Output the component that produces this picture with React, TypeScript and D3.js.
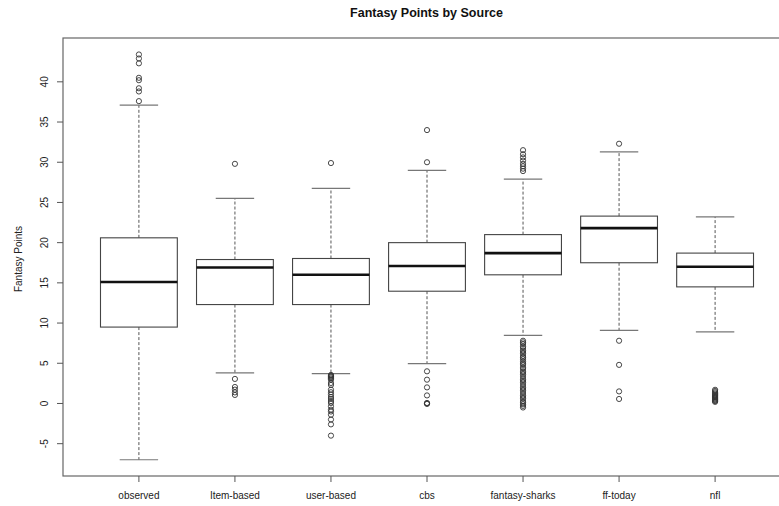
import React from "react";
import * as d3 from "d3";

const categories = ["observed", "Item-based", "user-based", "cbs", "fantasy-sharks", "ff-today", "nfl"];
const whiskerLow = [-7.0, 3.8, 3.71, 4.96, 8.48, 9.1, 8.9];
const q1 = [9.5, 12.3, 12.3, 13.96, 16.0, 17.5, 14.5];
const median = [15.1, 16.9, 16.0, 17.1, 18.7, 21.8, 17.0];
const q3 = [20.6, 17.9, 18.03, 20.0, 21.0, 23.3, 18.7];
const whiskerHigh = [37.1, 25.5, 26.75, 29.0, 27.9, 31.3, 23.2];

const observedOutliers = [43.4, 42.9, 42.3, 40.5, 40.2, 39.2, 38.8, 37.6];
const itemOutliers = [29.8, 3.05, 2.05, 1.72, 1.38, 1.06];
const userOutliers = [29.9, 3.55, 3.45, 3.35, 3.25, 3.1, 2.96, 2.55, 2.3, 1.72, 1.4, 1.1, 0.8, 0.56, 0.3, 0.06, -0.36, -0.77, -1.0, -1.4, -2.0, -2.6, -4.0];
const cbsOutliers = [34.0, 30.0, 4.0, 2.96, 2.0, 1.0, 0.06, 0.0, -0.05];
const sharksOutliers = [31.5, 31.0, 30.6, 30.2, 29.8, 29.5, 29.2, 28.9,
  7.8, 7.6, 7.4, 7.1, 6.9, 6.6, 6.4, 6.2, 5.9, 5.7, 5.5, 5.2, 5.0, 4.8, 4.5, 4.3, 4.0, 3.8, 3.6, 3.3,
  3.0, 2.8, 2.6, 2.3, 2.0, 1.8, 1.6, 1.3, 1.0, 0.8, 0.6, 0.3, 0.1, -0.1, -0.3, -0.5];
const ffTodayOutliers = [32.3, 7.8, 4.8, 1.5, 0.56];
const nflOutliers = [1.7, 1.55, 1.4, 1.25, 1.1, 1.0, 0.9, 0.8, 0.7, 0.6, 0.5, 0.4, 0.3, 0.2];
const outliers = [observedOutliers, itemOutliers, userOutliers, cbsOutliers, sharksOutliers, ffTodayOutliers, nflOutliers];

const yTicks = [-5, 0, 5, 10, 15, 20, 25, 30, 35, 40];

const W = 779, H = 506;
const left = 63, right = 790, top = 38, bottom = 476;

export default function App() {
  const x = d3.scaleLinear().domain([0.22, 7.78]).range([left + 1, right]);
  const y = d3.scaleLinear().domain([-9.02, 45.45]).range([bottom, top]);
  const unit = x(2) - x(1);
  const bw = unit * 0.8;
  const cap = bw * 0.5;
  const font = "'Liberation Sans', Arial, Helvetica, sans-serif";

  return (
    <svg width={W} height={H} style={{ position: "absolute", left: 0, top: 0, display: "block", background: "#fff" }}>
      <text x={(left + right) / 2} y={17} textAnchor="middle" fontFamily={font} fontWeight="bold" fontSize={12.5} fill="#111">
        Fantasy Points by Source
      </text>
      <rect x={left} y={top} width={right - left} height={bottom - top} fill="none" stroke="#666" strokeWidth={1.2} />
      {/* y axis */}
      {yTicks.map((t) => (
        <g key={t}>
          <line x1={left - 6} x2={left} y1={y(t)} y2={y(t)} stroke="#555" strokeWidth={1} />
          <text transform={`translate(48,${y(t)}) rotate(-90)`} textAnchor="middle" fontFamily={font} fontSize={10} fill="#222">
            {t}
          </text>
        </g>
      ))}
      <text transform={`translate(22,${(top + bottom) / 2 + 2}) rotate(-90)`} textAnchor="middle" fontFamily={font} fontSize={10} fill="#222">
        Fantasy Points
      </text>
      {/* x axis */}
      {categories.map((c, i) => (
        <g key={c}>
          <line x1={x(i + 1)} x2={x(i + 1)} y1={bottom} y2={bottom + 6} stroke="#555" strokeWidth={1} />
          <text x={x(i + 1)} y={499} textAnchor="middle" fontFamily={font} fontSize={10} fill="#222">
            {c}
          </text>
        </g>
      ))}
      {/* boxes */}
      {categories.map((c, i) => {
        const cx = x(i + 1);
        return (
          <g key={"b" + c}>
            <line x1={cx} x2={cx} y1={y(q3[i])} y2={y(whiskerHigh[i])} stroke="#555" strokeDasharray="3,2" strokeWidth={1} />
            <line x1={cx} x2={cx} y1={y(q1[i])} y2={y(whiskerLow[i])} stroke="#555" strokeDasharray="3,2" strokeWidth={1} />
            <line x1={cx - cap / 2} x2={cx + cap / 2} y1={y(whiskerHigh[i])} y2={y(whiskerHigh[i])} stroke="#777" strokeWidth={1.2} />
            <line x1={cx - cap / 2} x2={cx + cap / 2} y1={y(whiskerLow[i])} y2={y(whiskerLow[i])} stroke="#777" strokeWidth={1.2} />
            <rect x={cx - bw / 2} y={y(q3[i])} width={bw} height={y(q1[i]) - y(q3[i])} fill="#fff" stroke="#444" strokeWidth={1.1} />
            <line x1={cx - bw / 2} x2={cx + bw / 2} y1={y(median[i])} y2={y(median[i])} stroke="#111" strokeWidth={2.6} />
            {outliers[i].map((v, k) => (
              <circle key={k} cx={cx} cy={y(v)} r={2.6} fill="none" stroke="#333" strokeWidth={0.9} />
            ))}
          </g>
        );
      })}
    </svg>
  );
}
